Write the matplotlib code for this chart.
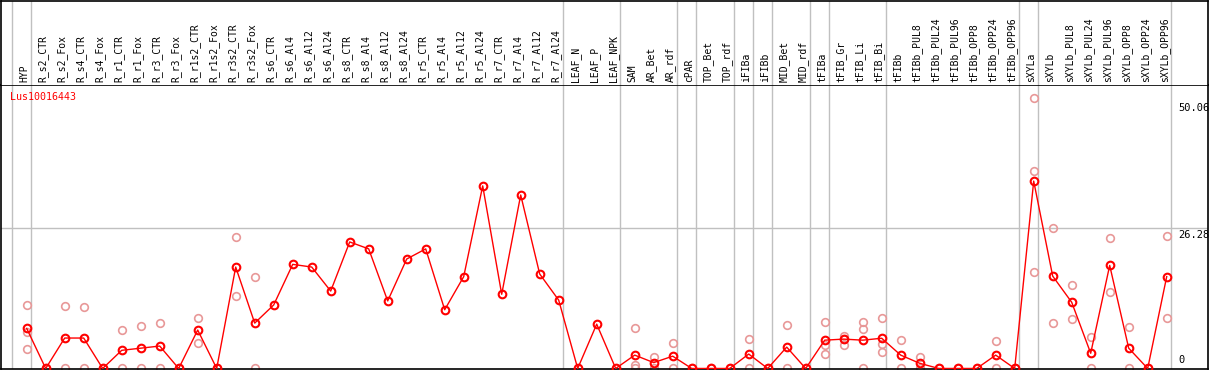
import numpy as np
import matplotlib
matplotlib.use("Agg")
import matplotlib.pyplot as plt

# sample names, in plotting order
labels = ["HYP", "R_s2_CTR", "R_s2_Fox", "R_s4_CTR", "R_s4_Fox", "R_r1_CTR", "R_r1_Fox",
          "R_r3_CTR", "R_r3_Fox", "R_r1s2_CTR", "R_r1s2_Fox", "R_r3s2_CTR", "R_r3s2_Fox",
          "R_s6_CTR", "R_s6_Al4", "R_s6_Al12", "R_s6_Al24", "R_s8_CTR", "R_s8_Al4",
          "R_s8_Al12", "R_s8_Al24", "R_r5_CTR", "R_r5_Al4", "R_r5_Al12", "R_r5_Al24",
          "R_r7_CTR", "R_r7_Al4", "R_r7_Al12", "R_r7_Al24", "LEAF_N", "LEAF_P", "LEAF_NPK",
          "SAM", "AR_Bet", "AR_rdf", "cPAR", "TOP_Bet", "TOP_rdf", "iFIBa", "iFIBb",
          "MID_Bet", "MID_rdf", "tFIBa", "tFIB_Gr", "tFIB_Li", "tFIB_Bi", "tFIBb",
          "tFIBb_PUL8", "tFIBb_PUL24", "tFIBb_PUL96", "tFIBb_OPP8", "tFIBb_OPP24",
          "tFIBb_OPP96", "sXYLa", "sXYLb", "sXYLb_PUL8", "sXYLb_PUL24", "sXYLb_PUL96",
          "sXYLb_OPP8", "sXYLb_OPP24", "sXYLb_OPP96"]

# mean expression per sample
means = [7.5, 0, 5.7, 5.7, 0, 3.4, 3.8, 4.2, 0, 7.2, 0, 19.0, 8.5,
         11.9, 19.5, 19.0, 14.5, 23.7, 22.4, 12.65, 20.5, 22.4, 11.0, 17.2, 34.2,
         13.9, 32.5, 17.7, 12.8, 0, 8.3, 0,
         2.5, 1.1, 2.3, 0, 0, 0, 2.7, 0, 4.0, 0, 5.3, 5.5, 5.3, 5.66, 2.5,
         0.97, 0, 0, 0, 2.5, 0, 35.1, 17.3, 12.4, 2.85, 19.3, 3.8, 0, 17.2]

# individual replicates
reps = [[11.9, 6.9, 3.6], [0], [11.7, 0], [11.5, 0], [0], [7.2, 0], [8.0, 0],
        [8.5, 0], [0], [9.4, 4.7], [0], [24.6, 13.5], [17.1, 0],
        [], [], [], [], [], [], [], [], [], [], [], [], [], [], [], [],
        [], [], [],
        [7.5, 0.7, 0], [2.2, 0], [4.8, 0], [0], [0], [0], [5.5, 0], [0],
        [8.15, 0], [0], [8.7, 4.4, 2.7], [6.1, 5.6, 4.4], [8.7, 7.4, 0],
        [9.4, 4.6, 3.15], [5.3, 0], [2.2, 0], [0], [0], [0], [5.15, 0], [0],
        [50.6, 37.0, 18.0], [26.3, 8.5], [15.65, 9.3], [5.9, 0], [24.4, 14.4],
        [7.8, 0], [0], [24.8, 9.4]]

# group separators: index of last sample in each group
group_ends = [-1, 0, 28, 31, 34, 35, 37, 38, 39, 41, 42, 45, 52, 53, 60]

gene = "Lus10016443"
ytick_vals = [50.06, 26.28, 0]

W, H = 1209, 370
fig = plt.figure(figsize=(W / 100, H / 100), dpi=100)
mono = "DejaVu Sans Mono"

x0, dx = 26.7, 19.0
xlim = ((1 - x0) / dx, (1208 - x0) / dx)

ax = fig.add_axes([1 / W, 1 / H, 1207 / W, 284 / H])
lab = fig.add_axes([1 / W, 285 / H, 1207 / W, 84.5 / H])

x = np.arange(len(labels))
sep_x = np.array(group_ends) + 4 / dx

for a in (ax, lab):
    a.set_xlim(*xlim)
    for s in sep_x:
        a.axvline(s, color="#c0c0c0", lw=1, zorder=0)
    a.set_xticks([])
    a.set_yticks([])
    for sp in a.spines.values():
        sp.set_color("black")
        sp.set_linewidth(1.2)

ax.set_ylim(-0.1, 53.1)
ax.axhline(26.28, color="#c0c0c0", lw=1, zorder=0)

lab.set_ylim(0, 1)
lab.spines["bottom"].set_visible(False)
for i, name in enumerate(labels):
    lab.text(i - 0.13, 0.03, name, rotation=90, ha="center", va="bottom",
             fontsize=7, family=mono, color="black")

# replicates
rx, ry = [], []
for i, r in enumerate(reps):
    rx += [i] * len(r)
    ry += r
ax.plot(rx, ry, "o", ms=5.5, mfc="none", mec="#e89898", mew=1.2, ls="none", zorder=2)

# means
ax.plot(x, means, "-", color="red", lw=1, zorder=3)
ax.plot(x, means, "o", ms=5.5, mfc="none", mec="red", mew=1.5, ls="none", zorder=4)

ax.text((10 - x0) / dx, 50.9, gene, color="red", fontsize=7.2, family=mono,
        ha="left", va="center")

tx = (1178 - x0) / dx
for v in ytick_vals:
    if v == 0:
        ax.text(tx, 0.6, "0", fontsize=7.5, family=mono, ha="left", va="bottom")
    else:
        ax.text(tx, v - 0.3, f"{v:.2f}", fontsize=7.5, family=mono, ha="left", va="top")

fig.savefig("out.png", dpi=100)
